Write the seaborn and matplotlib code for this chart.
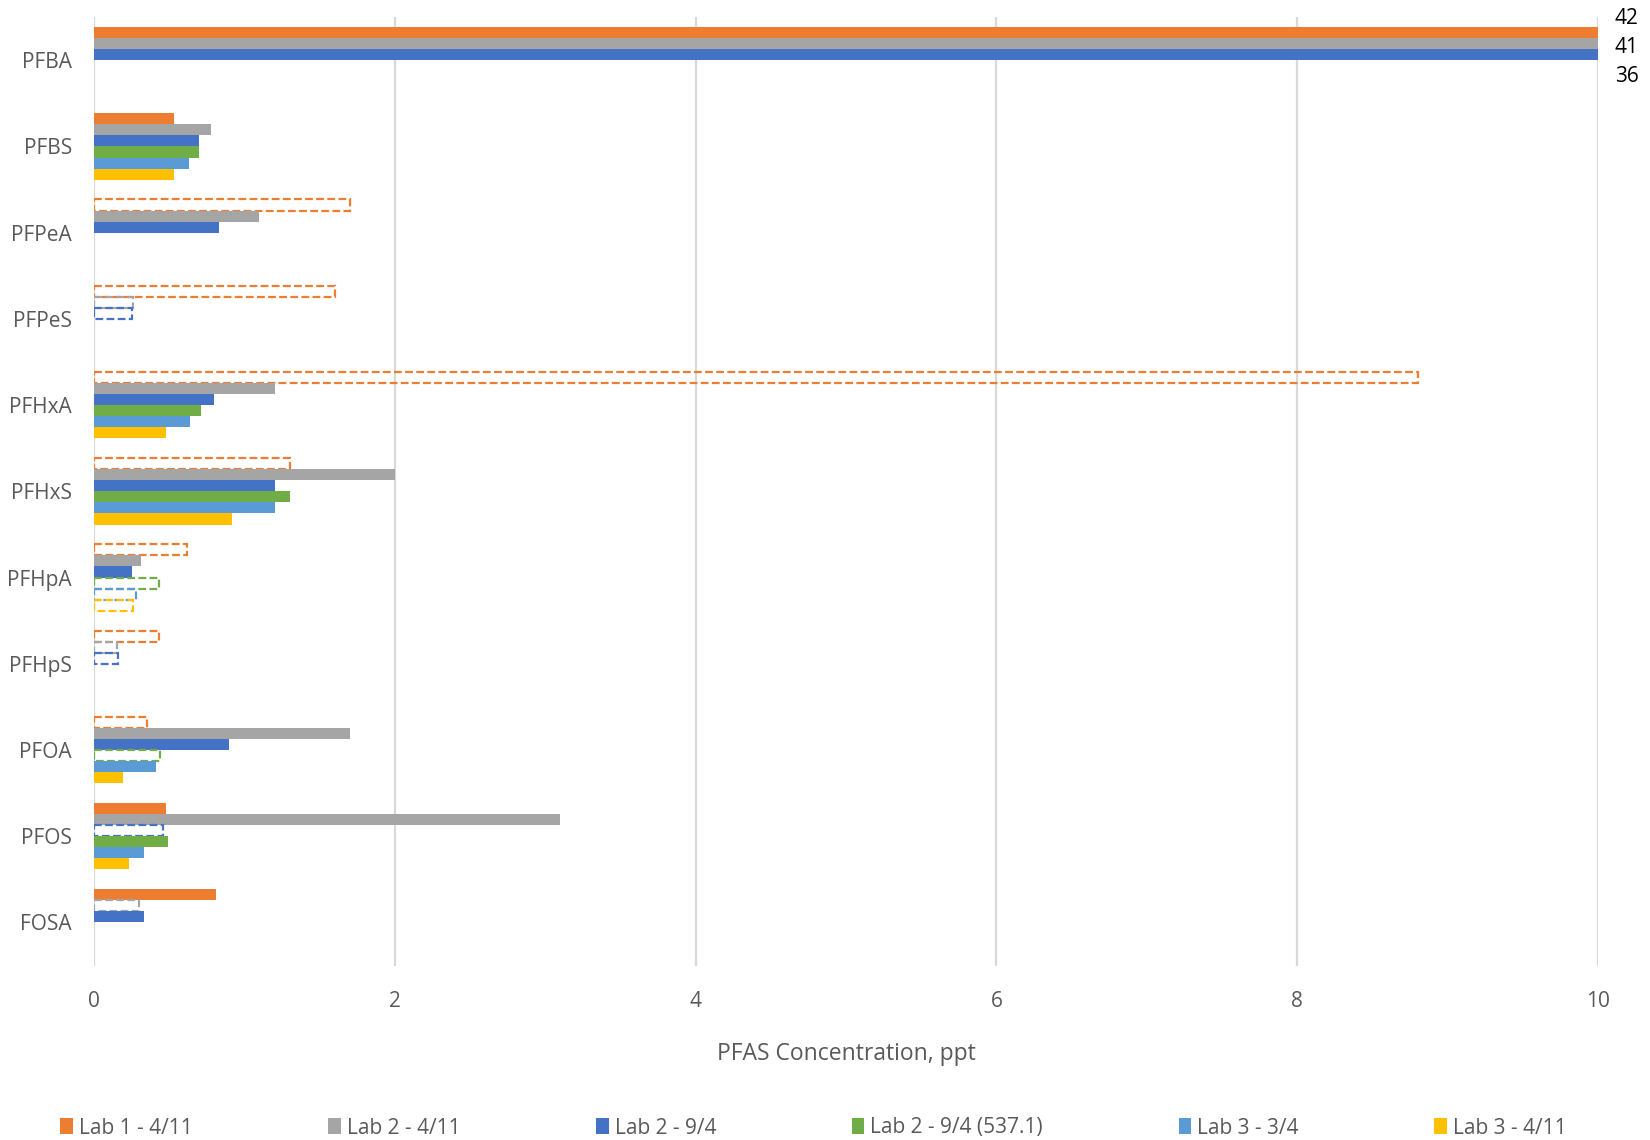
## PFAS results by lab, horizontal grouped bars (dashed outline = non-detect)
import pandas as pd
import matplotlib
matplotlib.use('Agg')
import matplotlib.pyplot as plt
import seaborn as sns
from matplotlib.patches import Patch

sns.set_style('white')
plt.rcParams['font.family'] = ['Open Sans', 'DejaVu Sans']

compounds = ['PFBA', 'PFBS', 'PFPeA', 'PFPeS', 'PFHxA', 'PFHxS',
             'PFHpA', 'PFHpS', 'PFOA', 'PFOS', 'FOSA']
labs = ['Lab 1 - 4/11', 'Lab 2 - 4/11', 'Lab 2 - 9/4',
        'Lab 2 - 9/4 (537.1)', 'Lab 3 - 3/4', 'Lab 3 - 4/11']
colors = ['#ED7D31', '#A5A5A5', '#4472C4', '#70AD47', '#5B9BD5', '#FFC000']

# concentrations in ppt, None = not reported
lab1_411 = [42, 0.53, 1.7, 1.6, 8.8, 1.3, 0.62, 0.43, 0.35, 0.48, 0.81]
lab2_411 = [41, 0.78, 1.1, 0.26, 1.2, 2.0, 0.31, 0.15, 1.7, 3.1, 0.30]
lab2_94 = [36, 0.70, 0.83, 0.25, 0.80, 1.2, 0.25, 0.16, 0.90, 0.46, 0.33]
lab2_94_537 = [None, 0.70, None, None, 0.71, 1.3, 0.43, None, 0.44, 0.49, None]
lab3_34 = [None, 0.63, None, None, 0.64, 1.2, 0.28, None, 0.41, 0.33, None]
lab3_411 = [None, 0.53, None, None, 0.48, 0.92, 0.26, None, 0.19, 0.23, None]

# non-detects (drawn as dashed outlines)
lab1_411_nd = [0, 0, 1, 1, 1, 1, 1, 1, 1, 0, 0]
lab2_411_nd = [0, 0, 0, 1, 0, 0, 0, 1, 0, 0, 1]
lab2_94_nd = [0, 0, 0, 1, 0, 0, 0, 1, 0, 1, 0]
lab2_94_537_nd = [0, 0, 0, 0, 0, 0, 1, 0, 1, 0, 0]
lab3_34_nd = [0, 0, 0, 0, 0, 0, 1, 0, 0, 0, 0]
lab3_411_nd = [0, 0, 0, 0, 0, 0, 1, 0, 0, 0, 0]

values = [lab1_411, lab2_411, lab2_94, lab2_94_537, lab3_34, lab3_411]
nondetect = [lab1_411_nd, lab2_411_nd, lab2_94_nd, lab2_94_537_nd, lab3_34_nd, lab3_411_nd]

rows = []
for lab, vals, nds in zip(labs, values, nondetect):
    for comp, v, nd in zip(compounds, vals, nds):
        rows.append({'Compound': comp, 'Lab': lab,
                     'Value': 0 if v is None else v,
                     'Missing': v is None, 'ND': bool(nd)})
df = pd.DataFrame(rows)

text_col = '#595959'
fig = plt.figure(figsize=(16.5, 11.4), dpi=100)
ax = fig.add_axes([0.057, 0.153, 0.9115, 0.832])

sns.barplot(data=df, y='Compound', x='Value', hue='Lab', order=compounds,
            hue_order=labs, palette=colors, saturation=1, width=0.77,
            errorbar=None, legend=False, linewidth=0, ax=ax)

# style each bar: hide missing ones, dashed outline for non-detects
for i, cont in enumerate(ax.containers):
    sub = df[df['Lab'] == labs[i]].reset_index(drop=True)
    for j, bar in enumerate(cont):
        if sub.loc[j, 'Missing']:
            bar.set_visible(False)
        elif sub.loc[j, 'ND']:
            bar.set_facecolor('none')
            bar.set_edgecolor(colors[i])
            bar.set_linestyle((0, (3.5, 1.5)))
            bar.set_linewidth(1.6)

# off-scale PFBA values shown as labels beside the axis
label_shift = [-0.16, 0.04, 0.25]
for i in range(3):
    bar = ax.containers[i][0]
    yc = bar.get_y() + bar.get_height() / 2
    ax.text(10.11, yc + label_shift[i], '%g' % values[i][0], ha='left', va='center',
            fontsize=15, color='black', clip_on=False)

ax.set_xlim(0, 10)
ax.set_ylim(10.5, -0.5)
ax.set_xticks(range(0, 11, 2))
ax.xaxis.grid(True, color='#D9D9D9', linewidth=1.6)
ax.yaxis.grid(False)
ax.set_axisbelow(True)
for s in ax.spines.values():
    s.set_visible(False)
ax.tick_params(axis='both', length=0, labelsize=15, labelcolor=text_col)
ax.tick_params(axis='x', pad=18)
ax.tick_params(axis='y', pad=16)
ax.set_ylabel('')
ax.set_xlabel('PFAS Concentration, ppt', fontsize=16.5, color=text_col, labelpad=22)

handles = [Patch(facecolor=c, edgecolor='none') for c in colors]
fig.legend(handles, labs, loc='center', bbox_to_anchor=(0.493, 1 - 1128 / 1140), ncol=6,
           frameon=False, fontsize=15, labelcolor=text_col, handlelength=0.6,
           handleheight=0.8, handletextpad=0.3, columnspacing=6.5)

plt.savefig('out.png', dpi=100)
